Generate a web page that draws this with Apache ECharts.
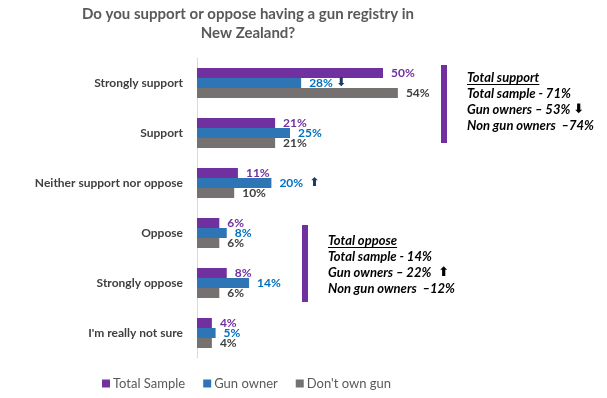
<!DOCTYPE html>
<html>
<head>
<meta charset="utf-8">
<script src="https://cdn.jsdelivr.net/npm/echarts@6/dist/echarts.min.js"></script>
<style>
  html, body { margin: 0; padding: 0; background: #fff; }
  #chart { width: 607px; height: 398px; }
</style>
</head>
<body>
<div id="chart"></div>
<script>
// answers, top to bottom
const answers = ['Strongly support', 'Support', 'Neither support nor oppose', 'Oppose', 'Strongly oppose', "I'm really not sure"];
const totalSample = [50, 21, 11, 6, 8, 4];
const gunOwner = [28, 25, 20, 8, 14, 5];
const dontOwnGun = [54, 21, 10, 6, 6, 4];
// significance arrows on the gun owner labels
const gunArrows = ['down', '', 'up', '', '', ''];

const supportNote = ['Total support', 'Total sample - 71%', 'Gun owners \u2013 53%{dn|\u2B07}', 'Non gun owners  \u201374%'];
const opposeNote = ['Total oppose', 'Total sample - 14%', 'Gun owners \u2013 22%{up|\u2B06}', 'Non gun owners  \u201312%'];

const FONT = 'Lato, "Open Sans", sans-serif';
const PURPLE = '#7030A0', BLUE = '#2E75B6', GREY = '#767171';
const ARROW = '#1F3864';
const NOTE_FONT = 'italic bold 13px ' + FONT;

var chart = echarts.init(document.getElementById('chart'));

// measure text for the underline
const ctx = document.createElement('canvas').getContext('2d');
function textW(t, font) { ctx.font = font; return ctx.measureText(t).width; }

function lbl(color, rich) {
  return {
    show: true, position: 'right', distance: 8,
    color: color, fontFamily: FONT, fontWeight: 'bold', fontSize: 12,
    rich: rich
  };
}

const arrowRich = {
  dn: { color: ARROW, fontFamily: 'DejaVu Sans', fontWeight: 'bold', fontSize: 13, padding: [0, 0, 0, 3] },
  up: { color: ARROW, fontFamily: 'DejaVu Sans', fontWeight: 'bold', fontSize: 13, padding: [0, 0, 0, 7] }
};

// side notes
function note(lines, x, y, barX, barTop, barH) {
  const g = [{
    type: 'rect', left: barX, top: barTop,
    shape: { width: 6, height: barH }, style: { fill: PURPLE }
  }];
  lines.forEach((t, i) => {
    g.push({
      type: 'text', left: x, top: y + i * 16,
      style: { text: t, fill: '#000', font: NOTE_FONT, rich: arrowRich }
    });
  });
  const w = textW(lines[0], NOTE_FONT);
  g.push({
    type: 'line', shape: { x1: x, y1: y + 13.5, x2: x + w, y2: y + 13.5 },
    style: { stroke: '#000', lineWidth: 1 }
  });
  return g;
}

const graphics = []
  .concat(note(supportNote, 467, 71, 441, 65, 78))
  .concat(note(opposeNote, 328, 234, 302, 225, 77));

chart.setOption({
  animation: false,
  title: {
    text: 'Do you support or oppose having a gun registry in\nNew Zealand?',
    left: 243, top: 0, textAlign: 'center',
    textStyle: { color: '#595959', fontFamily: FONT, fontWeight: 'bold', fontSize: 15, lineHeight: 19 }
  },
  legend: {
    bottom: 3, left: 97,
    icon: 'rect', itemWidth: 8, itemHeight: 8, itemGap: 18,
    textStyle: { color: '#595959', fontFamily: FONT, fontSize: 13, padding: [0, 0, 0, -2] },
    data: ['Total Sample', 'Gun owner', "Don't own gun"]
  },
  grid: { left: 197, top: 58, height: 300, width: 372, containLabel: false },
  xAxis: { type: 'value', min: 0, max: 100, show: false },
  yAxis: {
    type: 'category', data: answers, inverse: true,
    axisLine: { lineStyle: { color: '#D9D9D9' } },
    axisTick: { show: false },
    axisLabel: { color: '#404040', fontFamily: FONT, fontWeight: 'bold', fontSize: 12, margin: 14 }
  },
  series: [
    {
      name: 'Total Sample', type: 'bar', data: totalSample, barWidth: 10, barGap: '0%',
      itemStyle: { color: PURPLE },
      label: Object.assign(lbl(PURPLE), { formatter: '{c}%' })
    },
    {
      name: 'Gun owner', type: 'bar', data: gunOwner, barWidth: 10,
      itemStyle: { color: BLUE },
      label: Object.assign(lbl('#0070C0', {
        dn: { color: ARROW, fontFamily: 'DejaVu Sans', fontWeight: 'bold', fontSize: 12, padding: [0, 0, 0, 3] },
        up: { color: ARROW, fontFamily: 'DejaVu Sans', fontWeight: 'bold', fontSize: 12, padding: [0, 0, 0, 6] }
      }), {
        formatter: p => {
          const a = gunArrows[p.dataIndex];
          return p.value + '%' + (a === 'down' ? '{dn|\u2B07}' : a === 'up' ? '{up|\u2B06}' : '');
        }
      })
    },
    {
      name: "Don't own gun", type: 'bar', data: dontOwnGun, barWidth: 10,
      itemStyle: { color: GREY },
      label: Object.assign(lbl('#404040'), { formatter: '{c}%' })
    }
  ],
  graphic: graphics
});
</script>
</body>
</html>
